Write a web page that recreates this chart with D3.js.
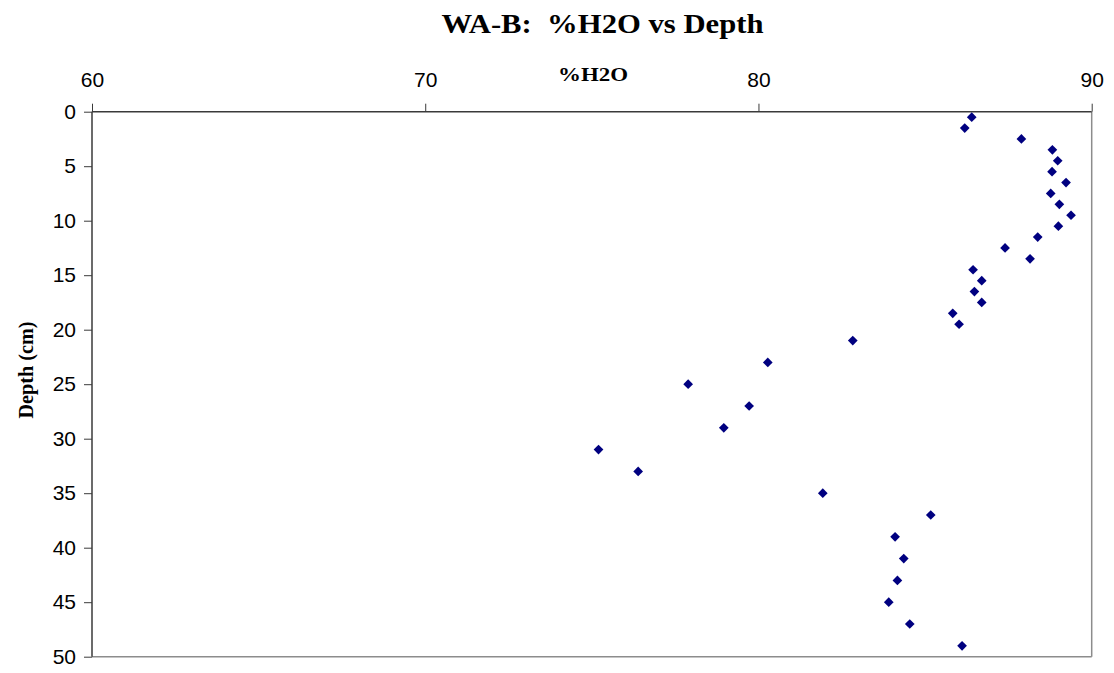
<!DOCTYPE html>
<html>
<head>
<meta charset="utf-8">
<script src="https://cdn.jsdelivr.net/npm/d3@7"></script>
<style>
  html, body { margin: 0; padding: 0; background: #fff; }
  svg { display: block; }
</style>
</head>
<body>
<svg id="chart" width="1114" height="673"></svg>
<script>
// ---- Data ----
const depths = [0.5, 1.5, 2.5, 3.5, 4.5, 5.5, 6.5, 7.5, 8.5, 9.5, 10.5, 11.5, 12.5, 13.5, 14.5, 15.5, 16.5, 17.5, 18.5, 19.5,
                21, 23, 25, 27, 29, 31, 33, 35, 37, 39, 41, 43, 45, 47, 49];
const h2o = [86.40, 86.19, 87.89, 88.82, 88.98, 88.81, 89.23, 88.77, 89.03, 89.38, 89.00, 88.38, 87.40, 88.15, 86.44, 86.70, 86.48, 86.70, 85.83, 86.02,
             82.83, 80.28, 77.89, 79.72, 78.96, 75.20, 76.39, 81.93, 85.17, 84.10, 84.36, 84.17, 83.91, 84.54, 86.11];
const xTicks = [60, 70, 80, 90];
const yTicks = [0, 5, 10, 15, 20, 25, 30, 35, 40, 45, 50];
const titleText = "WA-B:  %H2O vs Depth";
const xLabel = "%H2O";
const yLabel = "Depth (cm)";

// ---- Layout ----
const svg = d3.select("#chart");
const pLeft = 92, pRight = 1091.7, pTop = 111.7, pBottom = 656.7;

const x = d3.scaleLinear().domain([60, 90]).range([pLeft, pRight]);
const y = d3.scaleLinear().domain([0, 50]).range([pTop, pBottom]);

// Plot border (right & bottom, lighter grey)
svg.append("line").attr("x1", pRight).attr("x2", pRight).attr("y1", pTop).attr("y2", pBottom)
  .attr("stroke", "#8c8c8c").attr("stroke-width", 1.5);
svg.append("line").attr("x1", pLeft).attr("x2", pRight).attr("y1", pBottom).attr("y2", pBottom)
  .attr("stroke", "#8c8c8c").attr("stroke-width", 1.5);

// Top axis
const xAxis = d3.axisTop(x).tickValues(xTicks).tickSize(8).tickPadding(17).tickFormat(d3.format("d"));
const gx = svg.append("g").attr("transform", `translate(0,${pTop})`).call(xAxis);
gx.select(".domain").attr("stroke", "#3a3a3a").attr("stroke-width", 1.5).attr("d", `M${pLeft},0H${pRight}`);
gx.selectAll(".tick line").attr("stroke", "#3a3a3a").attr("stroke-width", 1);
gx.selectAll(".tick text").attr("font-family", "'Liberation Sans', Arial, sans-serif")
  .attr("font-size", 21).attr("fill", "#000");

// Left axis
const yAxis = d3.axisLeft(y).tickValues(yTicks).tickSize(8).tickPadding(8).tickFormat(d3.format("d"));
const gy = svg.append("g").attr("transform", `translate(${pLeft},0)`).call(yAxis);
gy.select(".domain").attr("stroke", "#3a3a3a").attr("stroke-width", 1.5).attr("d", `M0,${pTop}V${pBottom}`);
gy.selectAll(".tick line").attr("stroke", "#3a3a3a").attr("stroke-width", 1);
gy.selectAll(".tick text").attr("font-family", "'Liberation Sans', Arial, sans-serif")
  .attr("font-size", 21).attr("fill", "#000");

// Points (diamonds)
const diamond = d3.symbol().type(d3.symbolDiamond2).size(60);
svg.append("g").selectAll("path").data(depths.map((d, i) => ({d, v: h2o[i]})))
  .join("path")
  .attr("d", diamond)
  .attr("transform", p => `translate(${x(p.v)},${y(p.d)})`)
  .attr("fill", "#000080");

// Title
svg.append("text").attr("x", 602.5).attr("y", 33).attr("text-anchor", "middle")
  .attr("font-family", "'Liberation Serif', 'Times New Roman', serif")
  .attr("font-weight", "bold").attr("font-size", 28)
  .attr("textLength", 322).attr("lengthAdjust", "spacingAndGlyphs")
  .style("white-space", "pre")
  .text(titleText);

// X axis label
svg.append("text").attr("x", 593).attr("y", 81).attr("text-anchor", "middle")
  .attr("font-family", "'Liberation Serif', 'Times New Roman', serif")
  .attr("font-weight", "bold").attr("font-size", 18)
  .attr("textLength", 70).attr("lengthAdjust", "spacingAndGlyphs")
  .text(xLabel);

// Y axis label
svg.append("text").attr("transform", "translate(33,370) rotate(-90)").attr("text-anchor", "middle")
  .attr("font-family", "'Liberation Serif', 'Times New Roman', serif")
  .attr("font-weight", "bold").attr("font-size", 21)
  .attr("textLength", 97).attr("lengthAdjust", "spacingAndGlyphs")
  .text(yLabel);
</script>
</body>
</html>
